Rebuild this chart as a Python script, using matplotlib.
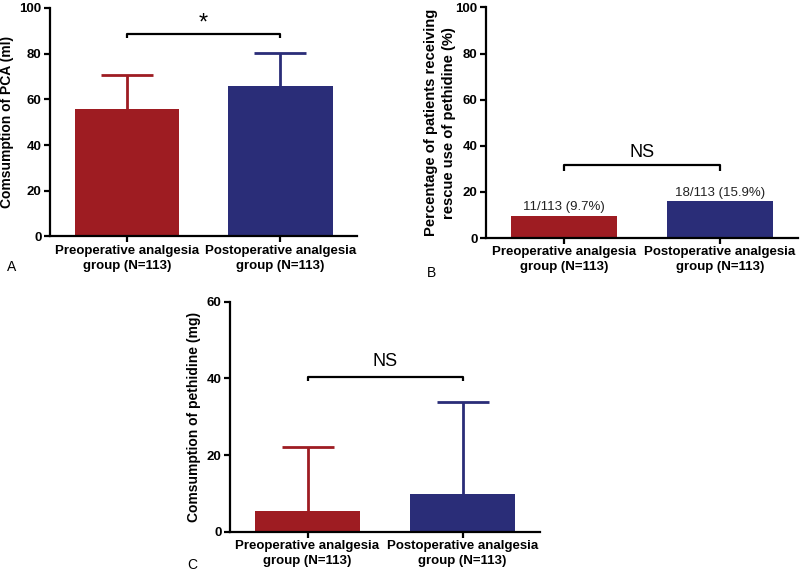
import matplotlib
matplotlib.use("Agg")
import matplotlib.pyplot as plt

plt.rcParams['font.family'] = ['Liberation Sans', 'DejaVu Sans']

groups = ["Preoperative analgesia\ngroup (N=113)", "Postoperative analgesia\ngroup (N=113)"]
colors = ["#9e1c22", "#2a2d78"]

pca_mean = [55.8, 66.0]
pca_sd = [15.0, 14.3]
pca_ticks = [0, 20, 40, 60, 80, 100]

rescue_pct = [9.7, 15.9]
rescue_labels = ["11/113 (9.7%)", "18/113 (15.9%)"]
rescue_ticks = [0, 20, 40, 60, 80, 100]

peth_mean = [5.5, 9.8]
peth_sd = [16.7, 24.0]
peth_ticks = [0, 20, 40, 60]

fig = plt.figure(figsize=(8, 5.75), dpi=100)

BW = 0.68
TICK_FS = 9.5


def style(ax, ticks, ylabel, lab_fs=10, labelpad=4):
    ax.set_xlim(-0.5, 1.5)
    ax.set_ylim(ticks[0], ticks[-1])
    ax.set_yticks(ticks)
    ax.set_xticks([0, 1])
    ax.set_xticklabels(groups, fontsize=TICK_FS, fontweight='bold', linespacing=1.3)
    for lab in ax.get_yticklabels():
        lab.set_fontweight('bold')
        lab.set_fontsize(TICK_FS)
    ax.spines['top'].set_visible(False)
    ax.spines['right'].set_visible(False)
    ax.spines['left'].set_linewidth(1.6)
    ax.spines['bottom'].set_linewidth(1.6)
    ax.tick_params(axis='both', direction='out', width=1.6, length=4, pad=2)
    ax.set_ylabel(ylabel, fontsize=lab_fs, fontweight='bold', linespacing=1.3, labelpad=labelpad)


def upper_errbar(ax, i, mean, sd, color):
    _, caps, _ = ax.errorbar(i, mean, yerr=[[0], [sd]], color=color, lw=2.0,
                             capsize=18.5, capthick=2.0, zorder=1)
    caps[0].set_visible(False)


def bracket(ax, y_top, leg, text, ty, fs, weight='normal'):
    ax.plot([0, 0, 1, 1], [y_top - leg, y_top, y_top, y_top - leg], color='black', lw=1.6,
            solid_capstyle='butt', clip_on=False)
    ax.text(0.5, ty, text, ha='center', va='center', fontsize=fs, fontweight=weight)


# Panel A
axA = fig.add_axes([0.0625, 0.5887, 0.384, 0.3974])
for i in range(2):
    axA.bar(i, pca_mean[i], width=BW, color=colors[i], zorder=2)
    upper_errbar(axA, i, pca_mean[i], pca_sd[i], colors[i])
style(axA, pca_ticks, "Comsumption of PCA (ml)")
bracket(axA, 88.7, 2.0, "*", 93.0, 17)

# Panel B
axB = fig.add_axes([0.6075, 0.586, 0.39, 0.401])
for i in range(2):
    axB.bar(i, rescue_pct[i], width=BW, color=colors[i], zorder=2)
    axB.text(i, rescue_pct[i] + 1.0, rescue_labels[i], ha='center', va='bottom', fontsize=9.5,
             color='#222222')
style(axB, rescue_ticks, "Percentage of patients receiving\nrescue use of pethidine (%)",
      lab_fs=10.6, labelpad=0)
bracket(axB, 31.6, 2.4, "NS", 37.2, 13)

# Panel C
axC = fig.add_axes([0.2875, 0.0753, 0.3875, 0.400])
for i in range(2):
    axC.bar(i, peth_mean[i], width=BW, color=colors[i], zorder=2)
    upper_errbar(axC, i, peth_mean[i], peth_sd[i], colors[i])
style(axC, peth_ticks, "Comsumption of pethidine (mg)")
bracket(axC, 40.3, 1.0, "NS", 44.3, 13)

fig.text(7 / 800, 1 - 267 / 575, "A", ha='left', va='center', fontsize=10)
fig.text(427 / 800, 1 - 273 / 575, "B", ha='left', va='center', fontsize=10)
fig.text(187 / 800, 1 - 565 / 575, "C", ha='left', va='center', fontsize=10)

fig.savefig("out.png", dpi=100)
